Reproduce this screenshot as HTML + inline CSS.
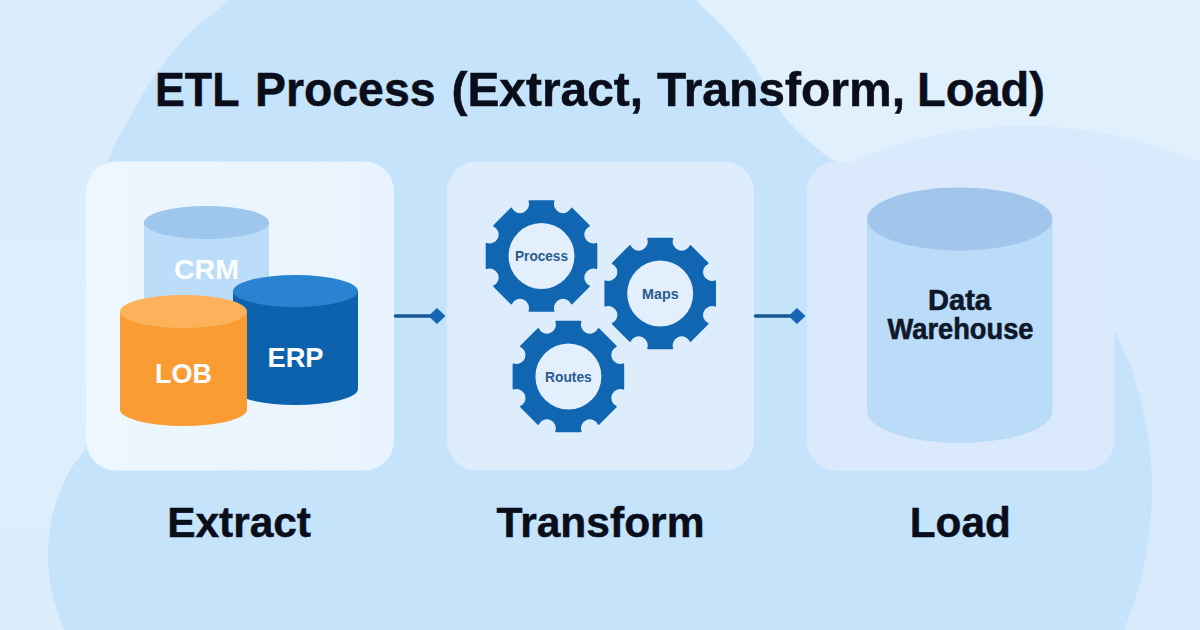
<!DOCTYPE html>
<html><head><meta charset="utf-8"><style>
html,body{margin:0;padding:0;width:1200px;height:630px;overflow:hidden;background:#D9ECFC;}
svg{display:block;}
text{font-family:"Liberation Sans",sans-serif;font-weight:bold;}
</style></head><body>
<svg width="1200" height="630" viewBox="0 0 1200 630">
<defs>
<linearGradient id="c1" x1="0" y1="0" x2="1" y2="0"><stop offset="0" stop-color="#EEF7FE"/><stop offset="1" stop-color="#E8F3FD"/></linearGradient>
<linearGradient id="bgl" x1="0" y1="0" x2="0" y2="1"><stop offset="0" stop-color="#DAECFC"/><stop offset="0.5" stop-color="#DDEEFC"/><stop offset="1" stop-color="#DCEDFC"/></linearGradient>
<linearGradient id="bgr" x1="0" y1="0" x2="0" y2="1"><stop offset="0" stop-color="#D6ECFB"/><stop offset="0.2" stop-color="#E0F0FC"/><stop offset="1" stop-color="#E0F0FC"/></linearGradient>
<linearGradient id="med" gradientUnits="userSpaceOnUse" x1="0" y1="0" x2="0" y2="630"><stop offset="0" stop-color="#BDE1FC"/><stop offset="0.07" stop-color="#BEE2FC"/><stop offset="0.09" stop-color="#C5E4FC"/><stop offset="0.9" stop-color="#C5E4FC"/><stop offset="0.93" stop-color="#BCE0FB"/><stop offset="1" stop-color="#B9E0FC"/></linearGradient>
</defs>
<rect width="1200" height="630" fill="#DDEEFC"/>
<rect width="620" height="630" fill="url(#bgl)"/>
<rect x="620" width="580" height="630" fill="#E0F0FC"/>
<circle cx="1026" cy="561" r="435" fill="#D9EAFC"/>
<path d="M229.8 -20L229.8 0.0C221.1 8.3 203.1 20.2 193.0 29.7C182.9 39.1 176.6 47.3 169.0 56.7C161.4 66.1 153.8 76.1 147.5 86.0C141.2 95.9 136.9 105.2 131.0 116.0C125.1 126.8 117.0 138.7 112.0 151.0C107.0 163.3 103.5 171.8 101.0 190.0C98.5 208.2 97.8 235.0 97.0 260.0C96.2 285.0 96.7 315.0 96.0 340.0C95.3 365.0 94.5 392.5 93.0 410.0C91.5 427.5 90.7 435.0 86.9 445.0C83.1 455.0 74.7 461.7 70.0 470.0C65.3 478.3 61.7 486.7 58.6 495.0C55.5 503.3 53.3 511.7 51.5 520.0C49.8 528.3 48.8 536.7 48.3 545.0C47.8 553.3 47.9 561.7 48.6 570.0C49.4 578.3 51.0 587.5 52.6 595.0C54.3 602.5 56.2 608.3 58.6 615.0C61.1 621.7 63.3 627.5 67.4 635.0L67.4 660L1121.9 660L1121.9 635.0C1126.1 625.0 1131.4 610.8 1135.0 600.0C1138.5 589.2 1140.8 580.0 1143.1 570.0C1145.4 560.0 1147.2 550.0 1148.5 540.0C1149.9 530.0 1150.9 520.0 1151.5 510.0C1152.0 500.0 1152.1 490.0 1151.9 480.0C1151.6 470.0 1150.9 460.0 1149.8 450.0C1148.7 440.0 1147.2 430.0 1145.2 420.0C1143.2 410.0 1140.9 400.0 1138.0 390.0C1135.1 380.0 1134.3 373.3 1128.0 360.0C1121.7 346.7 1116.3 328.3 1100.0 310.0C1083.7 291.7 1058.3 268.3 1030.0 250.0C1001.7 231.7 960.0 213.3 930.0 200.0C900.0 186.7 870.5 180.1 850.0 170.0C829.5 159.9 819.0 150.0 807.0 139.7C795.0 129.4 787.0 120.7 778.0 108.0C769.0 95.3 761.4 76.2 753.0 63.5C744.6 50.8 737.1 42.3 727.6 31.7C718.1 21.1 703.8 8.6 695.9 0.0L695.9 -20Z" fill="#C5E4FC"/>
<rect x="0" y="0" width="1200" height="90" fill="url(#tb)"/>
<rect x="0" y="560" width="1200" height="70" fill="url(#bb)"/>
<rect x="86" y="161.5" width="308" height="309" rx="30" fill="url(#c1)"/>
<rect x="447" y="161.5" width="307" height="309" rx="30" fill="#DEEDFC"/>
<rect x="807" y="161.5" width="307.3" height="309" rx="30" fill="#DBE9FC"/>
<!-- connectors -->
<line x1="395.5" y1="316" x2="437" y2="316" stroke="#185891" stroke-width="3.5" stroke-linecap="round"/>
<path d="M437 308 L445.5 316 L437 324 L428.5 316 Z" fill="#1565B0"/>
<line x1="755.5" y1="316" x2="797" y2="316" stroke="#185891" stroke-width="3.5" stroke-linecap="round"/>
<path d="M797 308 L805.5 316 L797 324 L788.5 316 Z" fill="#1565B0"/>
<!-- CRM -->
<path d="M144 222.5 L269 222.5 L269 330 L144 330 Z" fill="#BCDDFA"/>
<ellipse cx="206.5" cy="222.5" rx="62.5" ry="16.5" fill="#9FC6EC"/>
<text x="206.5" y="279" text-anchor="middle" font-size="28.5" textLength="65" lengthAdjust="spacingAndGlyphs" fill="#FFFFFF">CRM</text>
<!-- ERP -->
<path d="M233 291 L358 291 L358 389 A62.5 16 0 0 1 233 389 Z" fill="#0D62AD"/>
<ellipse cx="295.5" cy="291" rx="62.5" ry="16" fill="#2A83D1"/>
<text x="295.5" y="366.7" text-anchor="middle" font-size="27.6" textLength="56" lengthAdjust="spacingAndGlyphs" fill="#FFFFFF">ERP</text>
<!-- LOB -->
<path d="M120 311.5 L247 311.5 L247 409.5 A63.5 16.5 0 0 1 120 409.5 Z" fill="#F99C33"/>
<ellipse cx="183.5" cy="311.5" rx="63.5" ry="16.5" fill="#FBB25A"/>
<text x="183.5" y="383" text-anchor="middle" font-size="27.6" textLength="57" lengthAdjust="spacingAndGlyphs" fill="#FFFFFF">LOB</text>
<!-- gears -->
<circle cx="541.5" cy="256" r="34" fill="#E3EFFD"/><circle cx="660.2" cy="293.5" r="34" fill="#E3EFFD"/><circle cx="568.4" cy="376.5" r="34" fill="#E3EFFD"/>
<path d="M529.50 200.20L553.50 200.20L554.67 200.68A9.0 9.0 0 0 0 571.30 207.57L572.47 208.06L589.44 225.03L589.93 226.20A9.0 9.0 0 0 0 596.82 242.83L597.30 244.00L597.30 268.00L596.82 269.17A9.0 9.0 0 0 0 589.93 285.80L589.44 286.97L572.47 303.94L571.30 304.43A9.0 9.0 0 0 0 554.67 311.32L553.50 311.80L529.50 311.80L528.33 311.32A9.0 9.0 0 0 0 511.70 304.43L510.53 303.94L493.56 286.97L493.07 285.80A9.0 9.0 0 0 0 486.18 269.17L485.70 268.00L485.70 244.00L486.18 242.83A9.0 9.0 0 0 0 493.07 226.20L493.56 225.03L510.53 208.06L511.70 207.57A9.0 9.0 0 0 0 528.33 200.68L529.50 200.20ZM508.50 256.00A33.0 33.0 0 1 0 574.50 256.00A33.0 33.0 0 1 0 508.50 256.00Z" fill="#1166B2" fill-rule="evenodd"/>
<path d="M648.20 237.70L672.20 237.70L673.37 238.18A9.0 9.0 0 0 0 690.00 245.07L691.17 245.56L708.14 262.53L708.63 263.70A9.0 9.0 0 0 0 715.52 280.33L716.00 281.50L716.00 305.50L715.52 306.67A9.0 9.0 0 0 0 708.63 323.30L708.14 324.47L691.17 341.44L690.00 341.93A9.0 9.0 0 0 0 673.37 348.82L672.20 349.30L648.20 349.30L647.03 348.82A9.0 9.0 0 0 0 630.40 341.93L629.23 341.44L612.26 324.47L611.77 323.30A9.0 9.0 0 0 0 604.88 306.67L604.40 305.50L604.40 281.50L604.88 280.33A9.0 9.0 0 0 0 611.77 263.70L612.26 262.53L629.23 245.56L630.40 245.07A9.0 9.0 0 0 0 647.03 238.18L648.20 237.70ZM627.20 293.50A33.0 33.0 0 1 0 693.20 293.50A33.0 33.0 0 1 0 627.20 293.50Z" fill="#1166B2" fill-rule="evenodd"/>
<path d="M556.40 320.70L580.40 320.70L581.57 321.18A9.0 9.0 0 0 0 598.20 328.07L599.37 328.56L616.34 345.53L616.83 346.70A9.0 9.0 0 0 0 623.72 363.33L624.20 364.50L624.20 388.50L623.72 389.67A9.0 9.0 0 0 0 616.83 406.30L616.34 407.47L599.37 424.44L598.20 424.93A9.0 9.0 0 0 0 581.57 431.82L580.40 432.30L556.40 432.30L555.23 431.82A9.0 9.0 0 0 0 538.60 424.93L537.43 424.44L520.46 407.47L519.97 406.30A9.0 9.0 0 0 0 513.08 389.67L512.60 388.50L512.60 364.50L513.08 363.33A9.0 9.0 0 0 0 519.97 346.70L520.46 345.53L537.43 328.56L538.60 328.07A9.0 9.0 0 0 0 555.23 321.18L556.40 320.70ZM535.40 376.50A33.0 33.0 0 1 0 601.40 376.50A33.0 33.0 0 1 0 535.40 376.50Z" fill="#1166B2" fill-rule="evenodd"/>
<text x="541.5" y="261" text-anchor="middle" font-size="14.5" textLength="53" lengthAdjust="spacingAndGlyphs" fill="#2A5D8C">Process</text>
<text x="660.3" y="298.5" text-anchor="middle" font-size="15" textLength="36.6" lengthAdjust="spacingAndGlyphs" fill="#2A5D8C">Maps</text>
<text x="568.4" y="382" text-anchor="middle" font-size="15" textLength="46.8" lengthAdjust="spacingAndGlyphs" fill="#2A5D8C">Routes</text>
<!-- Data warehouse -->
<path d="M867 219 L1052.5 219 L1052.5 411.5 A92.75 31.5 0 0 1 867 411.5 Z" fill="#BBDCF9"/>
<ellipse cx="959.75" cy="219" rx="92.75" ry="31.5" fill="#A2C6EB"/>
<text x="959.5" y="310" text-anchor="middle" font-size="29" textLength="63" lengthAdjust="spacingAndGlyphs" fill="#0E1828" stroke="#0E1828" stroke-width="0.6">Data</text>
<text x="960.5" y="338.6" text-anchor="middle" font-size="29" textLength="146" lengthAdjust="spacingAndGlyphs" fill="#0E1828" stroke="#0E1828" stroke-width="0.6">Warehouse</text>
<!-- titles -->
<g font-size="48.7" fill="#0A0E1A" stroke="#0A0E1A" stroke-width="0.5" text-anchor="middle"><text x="197.25" y="106" textLength="84.50" lengthAdjust="spacingAndGlyphs">ETL</text><text x="345.25" y="106" textLength="180.50" lengthAdjust="spacingAndGlyphs">Process</text><text x="547.25" y="106" textLength="191.50" lengthAdjust="spacingAndGlyphs">(Extract,</text><text x="781.00" y="106" textLength="248.00" lengthAdjust="spacingAndGlyphs">Transform,</text><text x="981.00" y="106" textLength="128.00" lengthAdjust="spacingAndGlyphs">Load)</text></g>
<text x="239.1" y="536.7" text-anchor="middle" font-size="43.2" textLength="143.8" lengthAdjust="spacingAndGlyphs" fill="#0A0E1A" stroke="#0A0E1A" stroke-width="0.5">Extract</text>
<text x="600.5" y="536.7" text-anchor="middle" font-size="43.2" textLength="208" lengthAdjust="spacingAndGlyphs" fill="#0A0E1A" stroke="#0A0E1A" stroke-width="0.5">Transform</text>
<text x="960.25" y="537" text-anchor="middle" font-size="43.2" textLength="101" lengthAdjust="spacingAndGlyphs" fill="#0A0E1A" stroke="#0A0E1A" stroke-width="0.5">Load</text>
</svg>
</body></html>
